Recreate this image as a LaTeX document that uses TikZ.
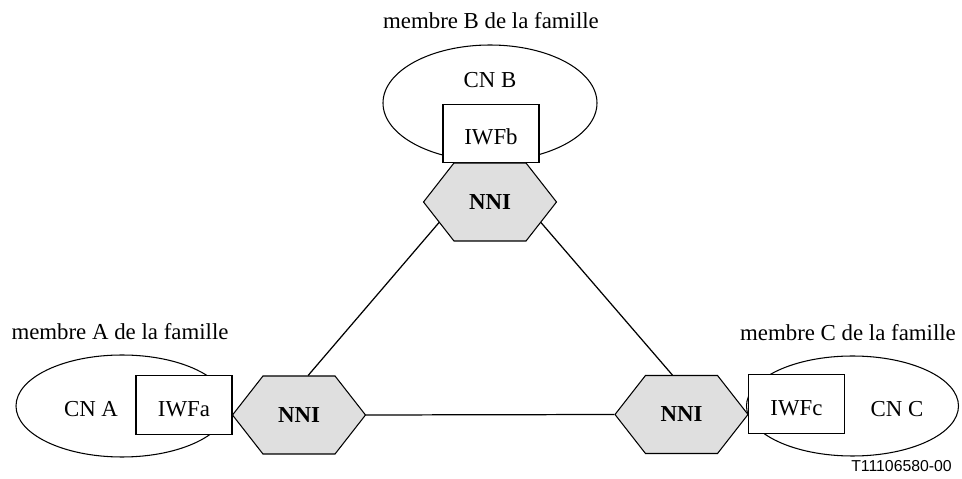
\documentclass[tikz,border=0pt]{standalone}
\usepackage{fontspec}
\setmainfont{Liberation Serif}
\newfontfamily\figsans{Liberation Sans}
\usetikzlibrary{shapes.geometric,shapes.symbols}

\def\boxwidth{1.92cm}
\def\boxheight{1.17cm}

\begin{document}
\begin{tikzpicture}[
    font=\fontsize{13}{15}\selectfont,
    thenet/.style={draw,ellipse,line width=.6pt,inner sep=0pt},
    theiwf/.style={draw,fill=white,line width=.6pt,minimum width=\boxwidth,
      minimum height=\boxheight,inner sep=0pt,text height=0.45cm,text depth=0pt},
    thenni/.style={draw,fill=gray!25,line width=.6pt,shape=signal,
      signal to=east and west,signal pointer angle=104,minimum width=2.66cm,
      minimum height=1.56cm,inner sep=0pt,font=\fontsize{13}{15}\selectfont\bfseries},
    thelink/.style={line width=.7pt}
    ]
    \useasboundingbox (0,0) rectangle (19.24,9.58);

    % membre B
    \node (famB) at (9.82,9.16) {membre B de la famille};
    \node[thenet,minimum width=4.28cm,minimum height=2.32cm] (netB) at (9.80,7.52) {};
    \node (cnB) at (9.80,7.98) {CN B};
    \node[theiwf] (iwfB) at (9.82,6.91) {IWFb};
    \node[thenni] (nniB) at (9.80,5.54) {NNI};

    % membre A
    \node (famA) at (2.40,2.94) {membre A de la famille};
    \node[thenet,minimum width=4.24cm,minimum height=2.04cm] (netA) at (2.44,1.46) {};
    \node (cnA) at (1.82,1.40) {CN A};
    \node[theiwf] (iwfA) at (3.68,1.48) {IWFa};
    \node[thenni] (nniA) at (5.98,1.28) {NNI};

    % membre C
    \node (famC) at (16.96,2.92) {membre C de la famille};
    \node[thenet,minimum width=4.24cm,minimum height=2.0cm] (netC) at (17.05,1.46) {};
    \node (cnC) at (17.94,1.40) {CN C};
    \node[theiwf] (iwfC) at (15.93,1.50) {IWFc};
    \node[thenni] (nniC) at (13.63,1.29) {NNI};

    \draw[thelink] (nniA.east) -- (nniC.west);
    \draw[thelink] (nniA.77) -- (nniB.202);
    \draw[thelink] (nniC.103.5) -- (nniB.338);

    \node[anchor=east,font=\figsans\fontsize{9}{11}\selectfont] (ref) at (19.16,0.26) {T11106580-00};
  \end{tikzpicture}
\end{document}
